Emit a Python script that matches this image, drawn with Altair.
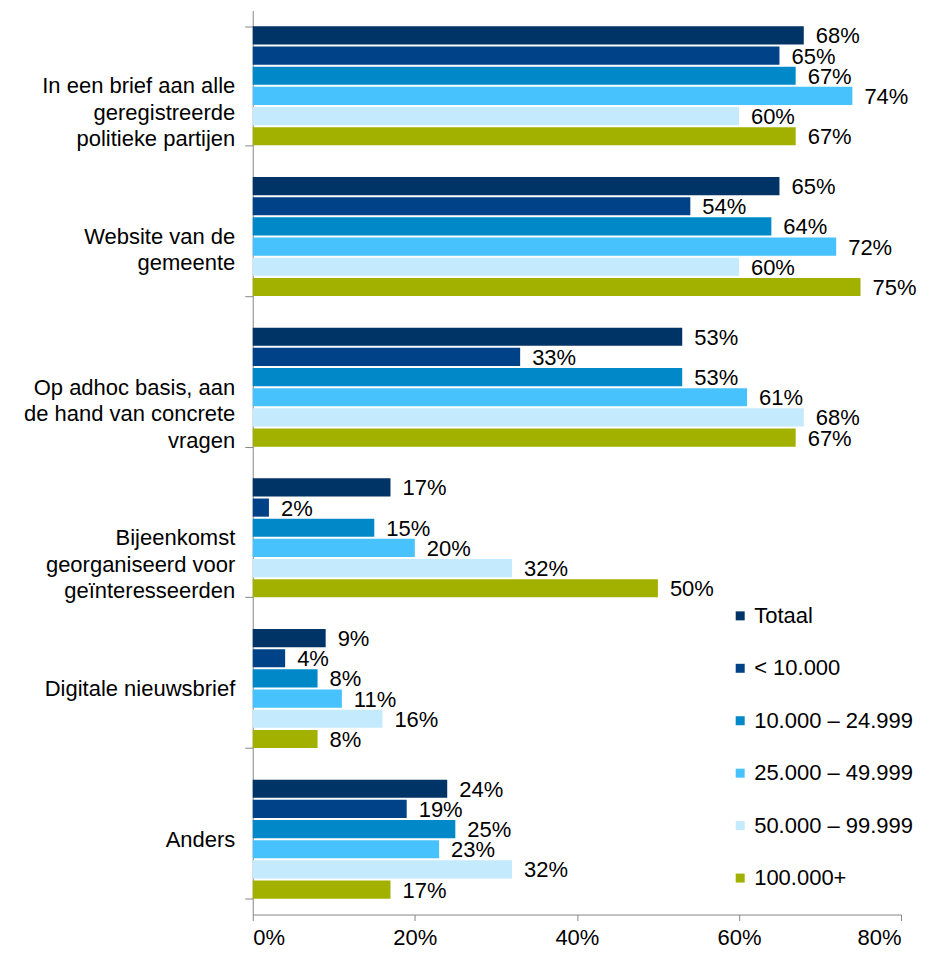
import altair as alt
import pandas as pd

categories = [
    "In een brief aan alle\ngeregistreerde\npolitieke partijen",
    "Website van de\ngemeente",
    "Op adhoc basis, aan\nde hand van concrete\nvragen",
    "Bijeenkomst\ngeorganiseerd voor\ngeïnteresseerden",
    "Digitale nieuwsbrief",
    "Anders",
]
series = ["Totaal", "< 10.000", "10.000 – 24.999", "25.000 – 49.999", "50.000 – 99.999", "100.000+"]
colors = ["#003366", "#004287", "#0088c8", "#48c2fc", "#c4eafd", "#a2b000"]

totaal = [68, 65, 53, 17, 9, 24]
lt10k = [65, 54, 33, 2, 4, 19]
k10_25 = [67, 64, 53, 15, 8, 25]
k25_50 = [74, 72, 61, 20, 11, 23]
k50_100 = [60, 60, 68, 32, 16, 32]
k100 = [67, 75, 67, 50, 8, 17]

values = [totaal, lt10k, k10_25, k25_50, k50_100, k100]
rows = []
for s, vals in zip(series, values):
    for c, v in zip(categories, vals):
        rows.append({"cat": c, "series": s, "value": v / 100.0, "label": f"{v}%"})
df = pd.DataFrame(rows)

FONT = "Liberation Sans"
FS = 22

y = alt.Y("cat:N", sort=categories, title=None,
          scale=alt.Scale(paddingInner=0.21, paddingOuter=0.105),
          axis=alt.Axis(labelFontSize=FS, labelFont=FONT, labelColor="#000000",
                        labelExpr="split(datum.label, '\\n')",
                        labelLineHeight=26.5, labelAlign="right", labelPadding=10,
                        tickBand="extent", tickSize=8, tickColor="#868686",
                        domainColor="#868686", labelLimit=400))
yoff = alt.YOffset("series:N", sort=series, scale=alt.Scale(paddingInner=0.1))

bars = alt.Chart(df).mark_bar().encode(
    x=alt.X("value:Q", title=None,
            scale=alt.Scale(domain=[0, 0.8]),
            axis=alt.Axis(format=".0%", values=[0, 0.2, 0.4, 0.6, 0.8], grid=False,
                          labelFontSize=FS, labelFont=FONT, labelColor="#000000",
                          tickSize=6, tickColor="#868686", domainColor="#868686",
                          labelPadding=7)),
    y=y,
    yOffset=yoff,
    color=alt.Color("series:N", sort=series,
                    scale=alt.Scale(domain=series, range=colors),
                    legend=alt.Legend(title=None, orient="none", legendX=477, legendY=595,
                                      symbolType="square", symbolSize=81,
                                      symbolStrokeWidth=0,
                                      labelFontSize=FS, labelFont=FONT, labelColor="#000000",
                                      rowPadding=30.5, labelOffset=3)),
)

labels = alt.Chart(df).mark_text(align="left", baseline="middle", dx=12, dy=1,
                                 fontSize=FS, font=FONT, color="#000000").encode(
    x="value:Q",
    y=alt.Y("cat:N", sort=categories),
    yOffset=yoff,
    text="label:N",
)

chart = (bars + labels).properties(
    width=649, height=905,
    autosize=alt.AutoSizeParams(type="none"),
    padding={"left": 245, "top": 2, "right": 20, "bottom": 40},
).configure_view(stroke=None)

chart.save("out.html", embed_options={"renderer": "svg", "actions": False})
